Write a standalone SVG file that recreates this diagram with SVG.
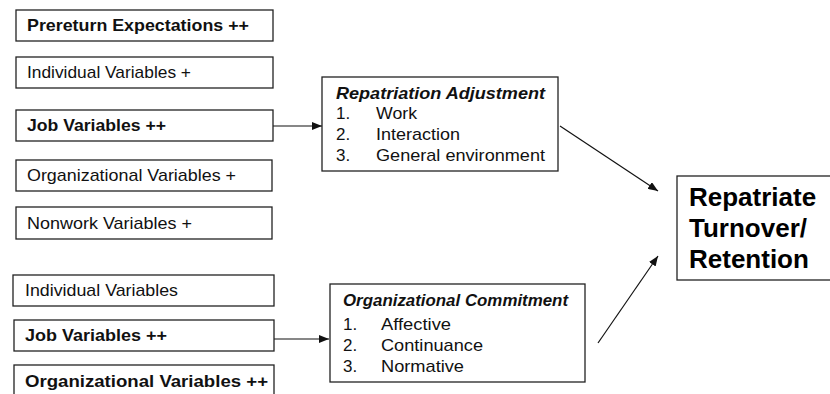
<svg xmlns="http://www.w3.org/2000/svg" width="830" height="394" viewBox="0 0 830 394">
<style>
.box{fill:#fff;stroke:#222;stroke-width:1.3}
.t{font-family:"Liberation Sans",Arial,sans-serif;font-size:17px;fill:#111}
.b{font-weight:bold}
.bi{font-weight:bold;font-style:italic}
.big{font-family:"Liberation Sans",Arial,sans-serif;font-size:26px;font-weight:bold;fill:#000}
.c{stroke:#111;stroke-width:1.2;fill:none}
</style>
<defs>
<marker id="ah" viewBox="0 0 10 8" refX="10" refY="4" markerWidth="10" markerHeight="8" markerUnits="userSpaceOnUse" orient="auto">
<path d="M0,0 L10,4 L0,8 Z" fill="#111"/>
</marker>
</defs>
<rect width="830" height="394" fill="#fff"/>
<g id="connectors">
<line class="c" x1="273" y1="126" x2="322" y2="126" marker-end="url(#ah)"/>
<line class="c" x1="274" y1="339" x2="329" y2="339" marker-end="url(#ah)"/>
<line class="c" x1="560" y1="126" x2="658" y2="191" marker-end="url(#ah)"/>
<line class="c" x1="598" y1="343" x2="658" y2="256" marker-end="url(#ah)"/>
</g>
<g id="n1"><rect class="box" x="16" y="10" width="257" height="31"/><text class="t b" x="27" y="31" textLength="222" lengthAdjust="spacingAndGlyphs">Prereturn Expectations ++</text></g>
<g id="n2"><rect class="box" x="16" y="57" width="257" height="31"/><text class="t" x="27" y="78" textLength="164" lengthAdjust="spacingAndGlyphs">Individual Variables +</text></g>
<g id="n3"><rect class="box" x="16" y="110" width="257" height="31"/><text class="t b" x="27" y="131" textLength="139" lengthAdjust="spacingAndGlyphs">Job Variables ++</text></g>
<g id="n4"><rect class="box" x="16" y="160" width="256" height="31"/><text class="t" x="27" y="181" textLength="209" lengthAdjust="spacingAndGlyphs">Organizational Variables +</text></g>
<g id="n5"><rect class="box" x="16" y="207" width="256" height="32"/><text class="t" x="27" y="229" textLength="165" lengthAdjust="spacingAndGlyphs">Nonwork Variables +</text></g>
<g id="n6"><rect class="box" x="13" y="275" width="261" height="31"/><text class="t" x="25" y="296" textLength="153" lengthAdjust="spacingAndGlyphs">Individual Variables</text></g>
<g id="n7"><rect class="box" x="14" y="320" width="260" height="31"/><text class="t b" x="25" y="341" textLength="142" lengthAdjust="spacingAndGlyphs">Job Variables ++</text></g>
<g id="n8"><rect class="box" x="14" y="365" width="260" height="40"/><text class="t b" x="25" y="387" textLength="243" lengthAdjust="spacingAndGlyphs">Organizational Variables ++</text></g>
<g id="repatriation-adjustment"><rect class="box" x="322" y="77" width="236" height="94"/>
<text class="t bi" x="336" y="99" textLength="209" lengthAdjust="spacingAndGlyphs">Repatriation Adjustment</text>
<text class="t" x="336" y="119">1.</text><text class="t" x="376" y="119" textLength="41" lengthAdjust="spacingAndGlyphs">Work</text>
<text class="t" x="336" y="140">2.</text><text class="t" x="376" y="140" textLength="84" lengthAdjust="spacingAndGlyphs">Interaction</text>
<text class="t" x="336" y="161">3.</text><text class="t" x="376" y="161" textLength="169" lengthAdjust="spacingAndGlyphs">General environment</text>
</g>
<g id="organizational-commitment"><rect class="box" x="330" y="284" width="255" height="98"/>
<text class="t bi" x="343" y="306" textLength="225" lengthAdjust="spacingAndGlyphs">Organizational Commitment</text>
<text class="t" x="343" y="330">1.</text><text class="t" x="381" y="330" textLength="70" lengthAdjust="spacingAndGlyphs">Affective</text>
<text class="t" x="343" y="351">2.</text><text class="t" x="381" y="351" textLength="102" lengthAdjust="spacingAndGlyphs">Continuance</text>
<text class="t" x="343" y="372">3.</text><text class="t" x="381" y="372" textLength="83" lengthAdjust="spacingAndGlyphs">Normative</text>
</g>
<g id="repatriate-turnover"><rect class="box" x="677" y="176" width="160" height="104"/>
<text class="big" x="689" y="206">Repatriate</text>
<text class="big" x="689" y="237">Turnover/</text>
<text class="big" x="689" y="268">Retention</text>
</g>
</svg>
